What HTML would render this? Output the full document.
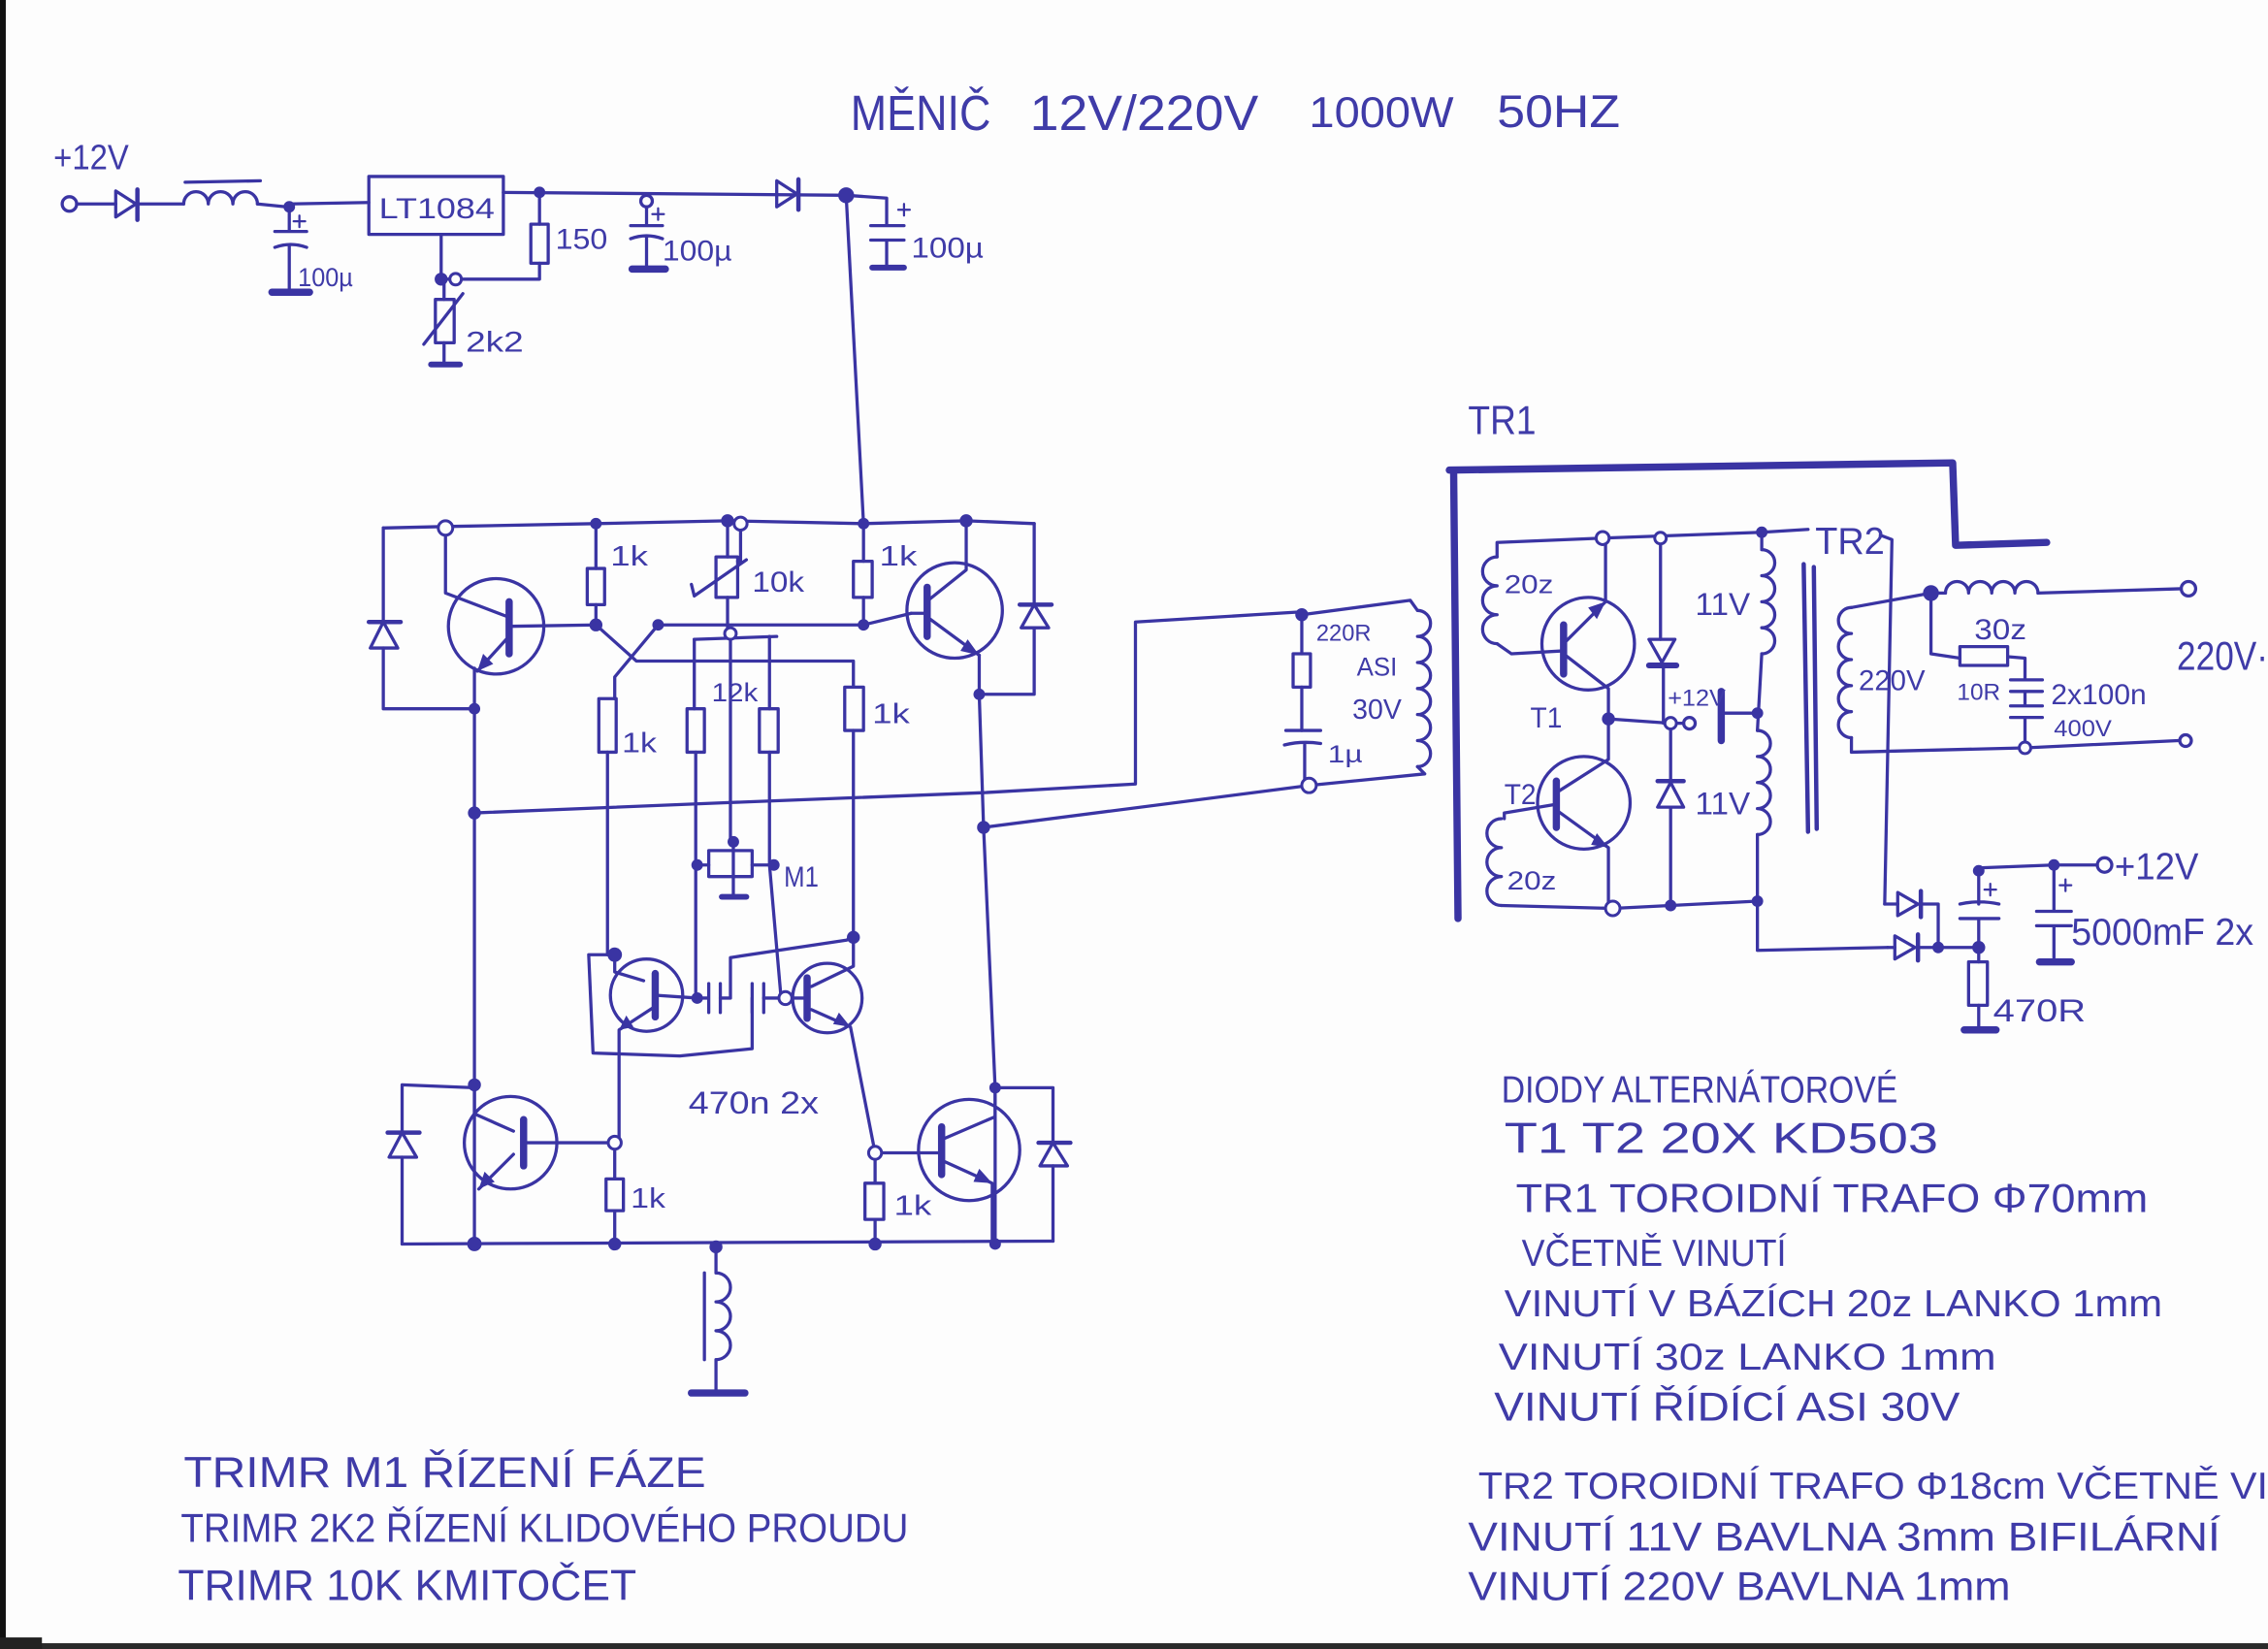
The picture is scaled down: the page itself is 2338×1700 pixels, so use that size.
<!DOCTYPE html>
<html>
<head>
<meta charset="utf-8">
<style>
html,body{margin:0;padding:0;background:#fff;}
svg{display:block}
</style>
</head>
<body>
<svg width="2338" height="1700" viewBox="0 0 1568 1140" preserveAspectRatio="none" xmlns="http://www.w3.org/2000/svg">
<rect width="1568" height="1140" fill="#fdfdfd"/>
<!-- scan edges -->
<rect x="0" y="0" width="4" height="1140" fill="#111"/>
<rect x="0" y="1136" width="1568" height="4" fill="#2a2a2a"/>
<rect x="0" y="1132" width="29" height="8" fill="#222"/>

<g fill="none" stroke="#3a34a3" stroke-width="2.2" stroke-linecap="round" stroke-linejoin="round">
<!-- ===== TOP SUPPLY ===== -->
<circle cx="48" cy="141" r="5"/>
<path d="M53 141 H80"/>
<path d="M80 132 L80 150 L94 141 Z"/>
<path d="M95 131 V152" stroke-width="3"/>
<path d="M95 141 H127"/>
<path d="M127 141 a8.5 8.5 0 0 1 17 0 a8.5 8.5 0 0 1 17 0 a8.5 8.5 0 0 1 17 0"/>
<path d="M178 141 L198 143"/>
<path d="M128 126 L180 125"/>
<path d="M200 143 V160 M190 160 H212 M190 171 Q201 167 212 171 M200 170 V200"/>
<path d="M188 202 H214" stroke-width="5"/>
<path d="M207 149 V157 M203 153 H211" stroke-width="1.5"/>
<path d="M200 141 L255 140"/>
<rect x="255" y="122" width="93" height="40"/>
<path d="M348 133 L585 135"/>
<path d="M373 133 V155"/>
<rect x="367" y="155" width="12" height="27"/>
<path d="M373 182 V193 L305 193 M305 162 V193"/>
<path d="M307 193 V207"/>
<rect x="301" y="207" width="13" height="30"/>
<path d="M293 238 L320 203"/>
<path d="M307 237 V251"/>
<path d="M298 252 H318" stroke-width="4"/>
<circle cx="447" cy="139" r="4"/>
<path d="M447 143 V156 M436 156 H458 M436 165 Q447 161 458 165 M447 164 V184"/>
<path d="M437 186 H460" stroke-width="5"/>
<path d="M455 144 V152 M451 148 H459" stroke-width="1.5"/>
<path d="M537 125 L537 143 L551 134 Z"/>
<path d="M552 124 V145" stroke-width="3"/>
<path d="M585 135 L613 137 V156 M602 156 H625 M602 166 H625 M613 166 V183"/>
<path d="M603 185 H625" stroke-width="4"/>
<path d="M625 141 V149 M621 145 H629" stroke-width="1.5"/>
<path d="M585 135 L597 362"/>

<!-- ===== H-BRIDGE TOP ===== -->
<path d="M265 365 L308 364 L412 362 L503 360 L597 362 L668 360 L715 362"/>
<!-- left top diode -->
<path d="M265 365 V430 M265 448 V490 L328 490"/>
<path d="M255 430 H277" stroke-width="3"/>
<path d="M265 430 L256 448 L275 448 Z"/>
<!-- Q1 -->
<circle cx="343" cy="433" r="33"/>
<path d="M308 365 V410 L350 426"/>
<path d="M352 416 V452" stroke-width="5"/>
<path d="M350 442 L330 464"/>
<path d="M328 462 V860"/>
<path d="M352 433 L412 432"/>
<!-- R1 -->
<path d="M412 362 V393 M412 418 V432"/>
<rect x="406" y="393" width="12" height="25"/>
<!-- trimmer 10k -->
<path d="M503 360 V385 M512 362 V388 L510 388"/>
<rect x="495" y="385" width="15" height="28"/>
<path d="M480 412 L516 387 M478 404 L480 412"/>
<path d="M503 413 V436"/>
<path d="M480 442 L537 440"/>
<!-- 12k resistors -->
<path d="M480 442 V490 M481 520 V690"/>
<rect x="475" y="490" width="12" height="30"/>
<path d="M532 440 V490 M532 520 V598 L540 690"/>
<rect x="525" y="490" width="13" height="30"/>
<!-- M1 -->
<path d="M505 440 V582 M507 582 V618"/>
<rect x="490" y="588" width="30" height="18"/>
<path d="M499 620 H516" stroke-width="4"/>
<path d="M482 598 H490 M520 598 H535"/>
<!-- cross coupling -->
<path d="M412 432 L440 457 L590 457 V475"/>
<rect x="584" y="475" width="13" height="30"/>
<path d="M590 505 V648"/>
<path d="M455 432 L425 468 V483"/>
<rect x="414" y="483" width="12" height="37"/>
<path d="M420 520 V660"/>
<path d="M455 432 L597 432 L630 424"/>
<!-- R2 -->
<path d="M597 362 V388 M597 413 V432"/>
<rect x="590" y="388" width="13" height="25"/>
<!-- Q2 -->
<circle cx="660" cy="422" r="33"/>
<path d="M641 406 V440" stroke-width="5"/>
<path d="M630 424 H641"/>
<path d="M668 360 V394 L643 414"/>
<path d="M643 428 L677 453"/>
<path d="M677 453 V480"/>
<!-- right top diode -->
<path d="M715 362 V418 M715 434 V480 L677 480"/>
<path d="M705 418 H727" stroke-width="3"/>
<path d="M715 418 L706 434 L725 434 Z"/>
<path d="M677 480 L680 572 L688 752 L688 860"/>
<!-- wires to TR1 -->
<path d="M328 562 L500 555 L680 548 L785 542 V430 L900 423"/>
<path d="M680 572 L905 543"/>
<!-- driver winding -->
<path d="M900 425 L975 415 L980 422"/>
<path d="M980 422 a9 9 0 0 1 0 18 a9 9 0 0 1 0 18 a9 9 0 0 1 0 18 a9 9 0 0 1 0 18 a9 9 0 0 1 0 18 a9 9 0 0 1 0 18"/>
<path d="M980 530 L985 535 L905 543"/>
<path d="M900 425 V452 M900 475 V505"/>
<rect x="894" y="452" width="12" height="23"/>
<path d="M889 505 H913 M888 515 Q900 512 913 514 M902 515 V540"/>

<!-- ===== LOWER ===== -->
<!-- Q3 -->
<circle cx="447" cy="688" r="25"/>
<path d="M425 660 V672 L445 678"/>
<path d="M453 673 V703" stroke-width="5"/>
<path d="M453 688 L482 690"/>
<path d="M451 697 L428 712 V790"/>
<!-- caps 470n -->
<path d="M482 690 H490 M490 680 V700 M498 680 V700"/>
<path d="M498 690 H505 V662 L585 650 L590 648"/>
<path d="M520 680 V700 M528 680 V700"/>
<path d="M520 690 V725 L470 730 L410 728 L407 660 L425 660"/>
<path d="M528 690 H543"/>
<!-- Q4 -->
<circle cx="572" cy="690" r="24"/>
<path d="M558 676 V704" stroke-width="5"/>
<path d="M543 690 H558"/>
<path d="M590 648 V668 L561 682"/>
<path d="M561 698 L588 710 L605 797"/>
<!-- Q5 -->
<circle cx="353" cy="790" r="32"/>
<path d="M328 752 V770 L355 782"/>
<path d="M362 774 V806" stroke-width="5"/>
<path d="M362 790 L425 790"/>
<path d="M355 798 L331 822"/>
<path d="M328 752 L278 750 V783 M278 800 V860"/>
<path d="M268 783 H290" stroke-width="3"/>
<path d="M278 783 L269 800 L288 800 Z"/>
<!-- R5 -->
<path d="M425 790 V815 M425 837 V860"/>
<rect x="419" y="815" width="12" height="22"/>
<!-- Q6 -->
<circle cx="670" cy="795" r="35"/>
<path d="M651 779 V812" stroke-width="5"/>
<path d="M605 797 H651"/>
<path d="M688 752 V772 L653 787"/>
<path d="M653 803 L686 818 V860"/>
<path d="M688 752 L728 752 V790 M728 806 V858"/>
<path d="M718 790 H740" stroke-width="3"/>
<path d="M728 790 L719 806 L738 806 Z"/>
<!-- R6 -->
<path d="M605 797 V818 M605 843 V860"/>
<rect x="598" y="818" width="13" height="25"/>
<!-- bottom rail -->
<path d="M278 860 L728 858"/>
<path d="M495 862 V880"/>
<path d="M495 880 a10 10 0 0 1 0 20 a10 10 0 0 1 0 20 a10 10 0 0 1 0 20"/>
<path d="M487 880 V940"/>
<path d="M495 940 V962"/>
<path d="M478 963 H515" stroke-width="5"/>

<!-- ===== TR1 / TR2 ===== -->
<path d="M1005 327 L1008 635" stroke-width="5"/>
<path d="M1002 325 L1350 320 L1352 377 L1415 375" stroke-width="5"/>
<!-- upper 20z coil -->
<path d="M1108 372 L1035 375 V385"/>
<path d="M1035 385 a10 10 0 0 0 0 20 a10 10 0 0 0 0 20 a10 10 0 0 0 0 20"/>
<path d="M1035 445 L1045 452 L1080 450"/>
<!-- T1 -->
<circle cx="1098" cy="445" r="32"/>
<path d="M1081 432 V466" stroke-width="5"/>
<path d="M1081 445 L1110 416 V372"/>
<path d="M1081 452 L1112 476 V497"/>
<path d="M1112 497 L1155 500 L1164 500"/>
<circle cx="1168" cy="500" r="4"/>
<!-- T2 -->
<circle cx="1095" cy="555" r="32"/>
<path d="M1076 540 V572" stroke-width="5"/>
<path d="M1076 548 L1112 525 V497"/>
<path d="M1076 560 L1112 586 V628"/>
<path d="M1076 556 L1040 562 V566"/>
<path d="M1038 566 a10 10 0 0 0 0 20 a10 10 0 0 0 0 20 a10 10 0 0 0 0 20"/>
<path d="M1038 626 L1115 628 L1215 623"/>
<!-- diode column -->
<path d="M1148 372 V442 M1150 460 V500 M1155 500 V540 M1155 558 V626"/>
<path d="M1140 442 L1158 442 L1149 458 Z"/>
<path d="M1140 460 H1159" stroke-width="4"/>
<path d="M1146 540 H1164" stroke-width="3"/>
<path d="M1155 541 L1146 558 L1164 558 Z"/>
<!-- 11V coils -->
<path d="M1108 372 L1218 368 L1250 366"/>
<path d="M1218 368 V380"/>
<path d="M1218 380 a9 9 0 0 1 0 18 a9 9 0 0 1 0 18 a9 9 0 0 1 0 18 a9 9 0 0 1 0 18"/>
<path d="M1218 452 L1215 505"/>
<path d="M1215 505 a9 9 0 0 1 0 18 a9 9 0 0 1 0 18 a9 9 0 0 1 0 18 a9 9 0 0 1 0 18"/>
<path d="M1215 577 V657 L1305 655"/>
<path d="M1190 478 V512" stroke-width="5"/>
<path d="M1190 493 L1215 493"/>
<!-- TR2 core -->
<path d="M1247 390 L1250 575" stroke-width="3"/>
<path d="M1254 392 L1256 573" stroke-width="3"/>
<!-- secondary -->
<path d="M1300 370 L1308 373 L1303 625"/>
<path d="M1280 420 L1335 410"/>
<path d="M1280 420 a9 9 0 0 0 0 18 a9 9 0 0 0 0 18 a9 9 0 0 0 0 18 a9 9 0 0 0 0 18 a9 9 0 0 0 0 18"/>
<path d="M1280 510 V520 L1400 517 L1506 512"/>
<circle cx="1511" cy="512" r="4"/>
<path d="M1335 410 H1345"/>
<path d="M1345 410 a8 8 0 0 1 16 0 a8 8 0 0 1 16 0 a8 8 0 0 1 16 0 a8 8 0 0 1 16 0"/>
<path d="M1409 410 L1508 407"/>
<circle cx="1513" cy="407" r="5"/>
<path d="M1335 410 V452 L1355 455"/>
<rect x="1355" y="447" width="33" height="13"/>
<path d="M1388 454 L1400 455 V470 M1390 470 H1412 M1390 478 H1412 M1400 478 V488 M1390 488 H1412 M1390 496 H1412 M1400 496 V517"/>
<!-- rectifier -->
<path d="M1303 625 H1312"/>
<path d="M1312 617 L1312 633 L1326 625 Z"/>
<path d="M1328 616 V634" stroke-width="3"/>
<path d="M1328 625 L1340 625 V655"/>
<path d="M1305 655 H1310"/>
<path d="M1310 647 L1310 663 L1324 655 Z"/>
<path d="M1326 646 V664" stroke-width="3"/>
<path d="M1326 655 L1368 655"/>
<path d="M1368 602 V625 M1355 625 Q1368 622 1382 625 M1355 635 H1382 M1368 635 V665"/>
<path d="M1376 611 V619 M1372 615 H1380" stroke-width="1.5"/>
<rect x="1361" y="665" width="13" height="30"/>
<path d="M1368 695 V710"/>
<path d="M1358 712 H1380" stroke-width="5"/>
<path d="M1368 600 L1420 598 L1450 598"/>
<circle cx="1455" cy="598" r="5"/>
<path d="M1420 598 V630 M1408 630 H1432 M1408 640 H1432 M1420 640 V662"/>
<path d="M1428 608 V616 M1424 612 H1432" stroke-width="1.5"/>
<path d="M1410 665 H1432" stroke-width="5"/>
</g>

<!-- transistor arrows -->
<g fill="#3a34a3" stroke="none">
<path d="M330 464 L334 452 L341 459 Z"/>
<path d="M677 453 L664 450 L669 442 Z"/>
<path d="M428 712 L433 702 L438 710 Z"/>
<path d="M588 710 L576 708 L580 700 Z"/>
<path d="M331 822 L335 810 L342 817 Z"/>
<path d="M686 818 L673 817 L677 808 Z"/>
<path d="M1110 416 L1098 420 L1104 428 Z"/>
<path d="M1112 586 L1100 584 L1104 576 Z"/>
</g>

<!-- junction dots -->
<g fill="#3a34a3" stroke="none">
<circle cx="200" cy="143" r="4"/>
<circle cx="373" cy="133" r="4"/>
<circle cx="305" cy="193" r="4.5"/>
<circle cx="585" cy="135" r="5.5"/>
<circle cx="412" cy="362" r="4"/>
<circle cx="503" cy="360" r="4.5"/>
<circle cx="597" cy="362" r="4"/>
<circle cx="668" cy="360" r="4.5"/>
<circle cx="412" cy="432" r="4.5"/>
<circle cx="455" cy="432" r="4"/>
<circle cx="597" cy="432" r="4"/>
<circle cx="328" cy="490" r="4"/>
<circle cx="677" cy="480" r="4"/>
<circle cx="328" cy="562" r="4.5"/>
<circle cx="680" cy="572" r="4.5"/>
<circle cx="507" cy="582" r="4"/>
<circle cx="482" cy="598" r="4"/>
<circle cx="535" cy="598" r="4"/>
<circle cx="590" cy="648" r="4.5"/>
<circle cx="425" cy="660" r="5"/>
<circle cx="482" cy="690" r="4"/>
<circle cx="328" cy="750" r="4.5"/>
<circle cx="688" cy="752" r="4"/>
<circle cx="328" cy="860" r="5"/>
<circle cx="425" cy="860" r="4.5"/>
<circle cx="495" cy="862" r="4.5"/>
<circle cx="605" cy="860" r="4.5"/>
<circle cx="688" cy="860" r="4"/>
<circle cx="900" cy="425" r="4.5"/>
<circle cx="1112" cy="497" r="4.5"/>
<circle cx="1218" cy="368" r="4"/>
<circle cx="1215" cy="493" r="4"/>
<circle cx="1155" cy="626" r="4"/>
<circle cx="1215" cy="623" r="4"/>
<circle cx="1335" cy="410" r="5.5"/>
<circle cx="1340" cy="655" r="4"/>
<circle cx="1368" cy="655" r="4.5"/>
<circle cx="1420" cy="598" r="4"/>
<circle cx="1368" cy="602" r="4"/>
</g>
<!-- open nodes -->
<g fill="#fdfdfd" stroke="#3a34a3" stroke-width="2">
<circle cx="315" cy="193" r="4"/>
<circle cx="308" cy="365" r="5"/>
<circle cx="512" cy="362" r="4.5"/>
<circle cx="505" cy="438" r="4"/>
<circle cx="905" cy="543" r="5"/>
<circle cx="543" cy="690" r="4.5"/>
<circle cx="605" cy="797" r="4.5"/>
<circle cx="425" cy="790" r="4.5"/>
<circle cx="1108" cy="372" r="4.5"/>
<circle cx="1148" cy="372" r="4"/>
<circle cx="1155" cy="500" r="4"/>
<circle cx="1115" cy="628" r="5"/>
<circle cx="1400" cy="517" r="4"/>
</g>

<!-- ===== TEXT ===== -->
<g font-family="'Liberation Sans', 'DejaVu Sans', sans-serif" fill="#3f3ba8" stroke="none">
<text x="588" y="90" font-size="34" textLength="97" lengthAdjust="spacingAndGlyphs">MĚNIČ</text>
<text x="712" y="90" font-size="34" textLength="158" lengthAdjust="spacingAndGlyphs">12V/220V</text>
<text x="905" y="88" font-size="30" textLength="100" lengthAdjust="spacingAndGlyphs">1000W</text>
<text x="1035" y="88" font-size="32" textLength="85" lengthAdjust="spacingAndGlyphs">50HZ</text>

<text x="37" y="117" font-size="24" textLength="52" lengthAdjust="spacingAndGlyphs">+12V</text>
<text x="262" y="151" font-size="20" textLength="80" lengthAdjust="spacingAndGlyphs">LT1084</text>
<text x="206" y="198" font-size="18" textLength="38" lengthAdjust="spacingAndGlyphs">100µ</text>
<text x="384" y="172" font-size="20" textLength="36" lengthAdjust="spacingAndGlyphs">150</text>
<text x="322" y="243" font-size="20" textLength="40" lengthAdjust="spacingAndGlyphs">2k2</text>
<text x="458" y="180" font-size="20" textLength="48" lengthAdjust="spacingAndGlyphs">100µ</text>
<text x="630" y="178" font-size="20" textLength="50" lengthAdjust="spacingAndGlyphs">100µ</text>

<text x="422" y="391" font-size="19" textLength="26" lengthAdjust="spacingAndGlyphs">1k</text>
<text x="520" y="409" font-size="20" textLength="36" lengthAdjust="spacingAndGlyphs">10k</text>
<text x="608" y="391" font-size="19" textLength="26" lengthAdjust="spacingAndGlyphs">1k</text>
<text x="492" y="485" font-size="18" textLength="32" lengthAdjust="spacingAndGlyphs">12k</text>
<text x="430" y="520" font-size="19" textLength="24" lengthAdjust="spacingAndGlyphs">1k</text>
<text x="603" y="500" font-size="19" textLength="26" lengthAdjust="spacingAndGlyphs">1k</text>
<text x="542" y="613" font-size="20" textLength="24" lengthAdjust="spacingAndGlyphs">M1</text>
<text x="476" y="770" font-size="22" textLength="90" lengthAdjust="spacingAndGlyphs">470n 2x</text>
<text x="436" y="835" font-size="19" textLength="24" lengthAdjust="spacingAndGlyphs">1k</text>
<text x="618" y="840" font-size="19" textLength="26" lengthAdjust="spacingAndGlyphs">1k</text>

<text x="910" y="443" font-size="16" textLength="38" lengthAdjust="spacingAndGlyphs">220R</text>
<text x="938" y="467" font-size="18" textLength="28" lengthAdjust="spacingAndGlyphs">ASI</text>
<text x="935" y="497" font-size="19" textLength="34" lengthAdjust="spacingAndGlyphs">30V</text>
<text x="918" y="527" font-size="17" textLength="24" lengthAdjust="spacingAndGlyphs">1µ</text>

<text x="1015" y="300" font-size="28" textLength="47" lengthAdjust="spacingAndGlyphs">TR1</text>
<text x="1040" y="410" font-size="18" textLength="34" lengthAdjust="spacingAndGlyphs">20z</text>
<text x="1058" y="503" font-size="20" textLength="22" lengthAdjust="spacingAndGlyphs">T1</text>
<text x="1040" y="556" font-size="20" textLength="22" lengthAdjust="spacingAndGlyphs">T2</text>
<text x="1042" y="615" font-size="18" textLength="34" lengthAdjust="spacingAndGlyphs">20z</text>
<text x="1153" y="488" font-size="16" textLength="40" lengthAdjust="spacingAndGlyphs">+12V</text>
<text x="1172" y="425" font-size="22" textLength="38" lengthAdjust="spacingAndGlyphs">11V</text>
<text x="1172" y="563" font-size="22" textLength="38" lengthAdjust="spacingAndGlyphs">11V</text>
<text x="1255" y="383" font-size="26" textLength="48" lengthAdjust="spacingAndGlyphs">TR2</text>
<text x="1285" y="477" font-size="20" textLength="46" lengthAdjust="spacingAndGlyphs">220V</text>
<text x="1365" y="442" font-size="20" textLength="36" lengthAdjust="spacingAndGlyphs">30z</text>
<text x="1353" y="484" font-size="16" textLength="30" lengthAdjust="spacingAndGlyphs">10R</text>
<text x="1418" y="487" font-size="20" textLength="66" lengthAdjust="spacingAndGlyphs">2x100n</text>
<text x="1420" y="509" font-size="16" textLength="40" lengthAdjust="spacingAndGlyphs">400V</text>
<text x="1505" y="463" font-size="28" textLength="63" lengthAdjust="spacingAndGlyphs">220V·</text>
<text x="1462" y="608" font-size="26" textLength="58" lengthAdjust="spacingAndGlyphs">+12V</text>
<text x="1432" y="653" font-size="26" textLength="126" lengthAdjust="spacingAndGlyphs">5000mF 2x</text>
<text x="1378" y="706" font-size="22" textLength="64" lengthAdjust="spacingAndGlyphs">470R</text>

<text x="1038" y="762" font-size="26" textLength="274" lengthAdjust="spacingAndGlyphs">DIODY ALTERNÁTOROVÉ</text>
<text x="1040" y="797" font-size="30" textLength="300" lengthAdjust="spacingAndGlyphs">T1 T2   20X KD503</text>
<text x="1048" y="838" font-size="28" textLength="437" lengthAdjust="spacingAndGlyphs">TR1  TOROIDNÍ TRAFO  Φ70mm</text>
<text x="1052" y="875" font-size="26" textLength="183" lengthAdjust="spacingAndGlyphs">VČETNĚ VINUTÍ</text>
<text x="1040" y="910" font-size="26" textLength="455" lengthAdjust="spacingAndGlyphs">VINUTÍ  V BÁZÍCH 20z LANKO 1mm</text>
<text x="1036" y="947" font-size="26" textLength="344" lengthAdjust="spacingAndGlyphs">VINUTÍ 30z LANKO 1mm</text>
<text x="1033" y="982" font-size="28" textLength="322" lengthAdjust="spacingAndGlyphs">VINUTÍ ŘÍDÍCÍ ASI 30V</text>
<text x="1022" y="1036" font-size="26" textLength="546" lengthAdjust="spacingAndGlyphs">TR2 TOROIDNÍ TRAFO  Φ18cm VČETNĚ VI</text>
<text x="1015" y="1072" font-size="28" textLength="520" lengthAdjust="spacingAndGlyphs">VINUTÍ 11V BAVLNA 3mm BIFILÁRNÍ</text>
<text x="1015" y="1106" font-size="28" textLength="375" lengthAdjust="spacingAndGlyphs">VINUTÍ 220V BAVLNA 1mm</text>

<text x="127" y="1028" font-size="30" textLength="361" lengthAdjust="spacingAndGlyphs">TRIMR M1  ŘÍZENÍ FÁZE</text>
<text x="125" y="1066" font-size="28" textLength="503" lengthAdjust="spacingAndGlyphs">TRIMR 2K2  ŘÍZENÍ KLIDOVÉHO PROUDU</text>
<text x="123" y="1106" font-size="30" textLength="317" lengthAdjust="spacingAndGlyphs">TRIMR 10K  KMITOČET</text>
</g>
</svg>
</body>
</html>
